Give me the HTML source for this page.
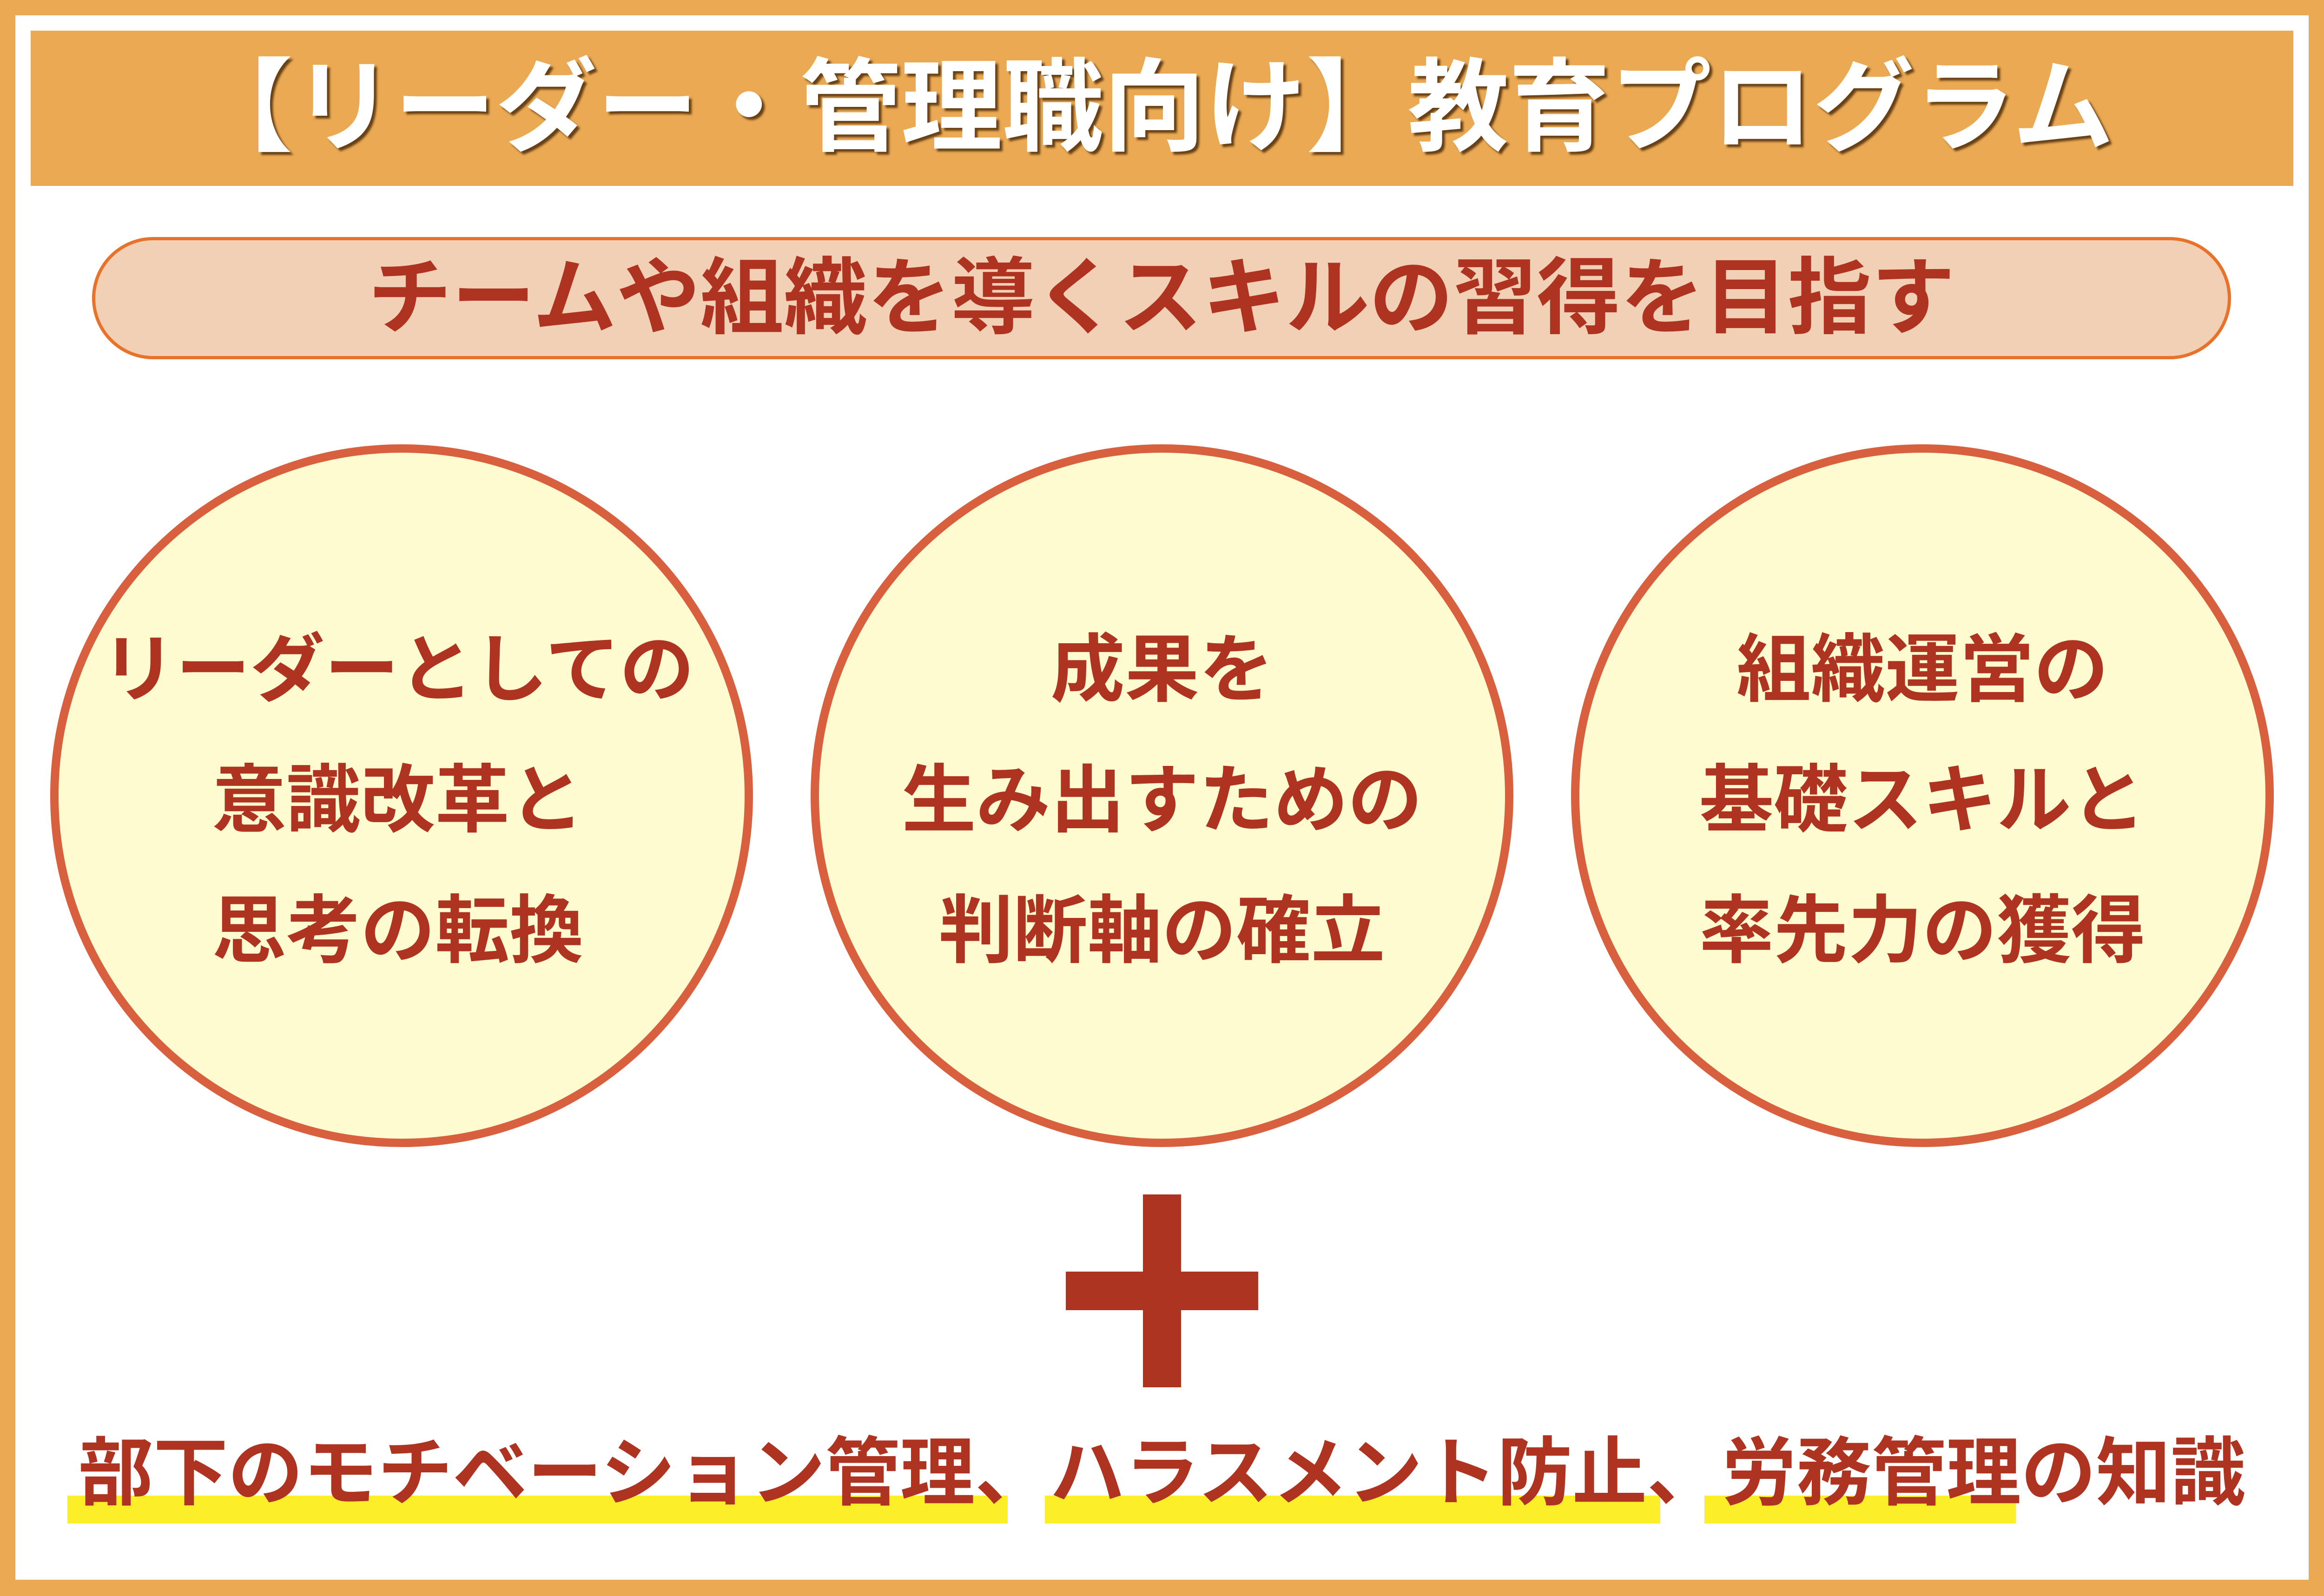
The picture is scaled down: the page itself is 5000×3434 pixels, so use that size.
<!DOCTYPE html>
<html><head><meta charset="utf-8"><style>
html,body{margin:0;padding:0}
body{width:5000px;height:3434px;position:relative;background:#fff;overflow:hidden;font-family:"Liberation Sans","Noto Sans CJK JP",sans-serif;font-weight:700}
.frame{position:absolute;left:0;top:0;width:5000px;height:3434px;box-sizing:border-box;border-style:solid;border-color:#eaa952;border-width:33px 33px 35px 33px}
.title{position:absolute;left:66px;top:66px;width:4868px;height:334px;background:#eaa952;color:#fff;font-size:218px;line-height:334px;text-align:center;text-shadow:6px 6px 4px rgba(60,30,0,.75);white-space:nowrap;text-indent:-40px}
.pill{position:absolute;left:198px;top:510px;width:4602px;height:263px;box-sizing:border-box;border:7px solid #e8722a;border-radius:132px;background:#f2d0b6;color:#ae3421;font-size:180px;line-height:249px;text-align:center;white-space:nowrap}
.c{position:absolute;width:1512px;height:1512px;top:956px;box-sizing:border-box;border:18px solid #d9603f;border-radius:50%;background:#fffbd0}
.ct{position:absolute;width:1700px;text-align:center;color:#ae3421;font-size:160px;line-height:281px;top:1300px;white-space:nowrap}
.bar{position:absolute;background:#ad3421}
.hl{position:absolute;background:#fdee2a;top:3218px;height:60px}
.bt{position:absolute;left:0;width:5000px;text-align:center;top:3040px;font-size:161px;line-height:260px;color:#ae3421;white-space:nowrap}
</style></head><body>
<div class="frame"></div>
<div class="title">【リーダー・管理職向け】教育プログラム</div>
<div class="pill">チームや組織を導くスキルの習得を目指す</div>
<div class="c" style="left:108px"></div>
<div class="c" style="left:1744px"></div>
<div class="c" style="left:3380px"></div>
<div class="ct" style="left:6px">リーダーとしての<br>意識改革と<br>思考の転換</div>
<div class="ct" style="left:1650px">成果を<br>生み出すための<br>判断軸の確立</div>
<div class="ct" style="left:3286px">組織運営の<br>基礎スキルと<br>率先力の獲得</div>
<div class="bar" style="left:2293px;top:2736px;width:414px;height:83px"></div>
<div class="bar" style="left:2459px;top:2570px;width:82px;height:415px"></div>
<div class="hl" style="left:145px;width:2023px"></div>
<div class="hl" style="left:2248px;width:1324px"></div>
<div class="hl" style="left:3667px;width:670px"></div>
<div class="bt">部下のモチベーション管理、ハラスメント防止、労務管理の知識</div>
</body></html>
